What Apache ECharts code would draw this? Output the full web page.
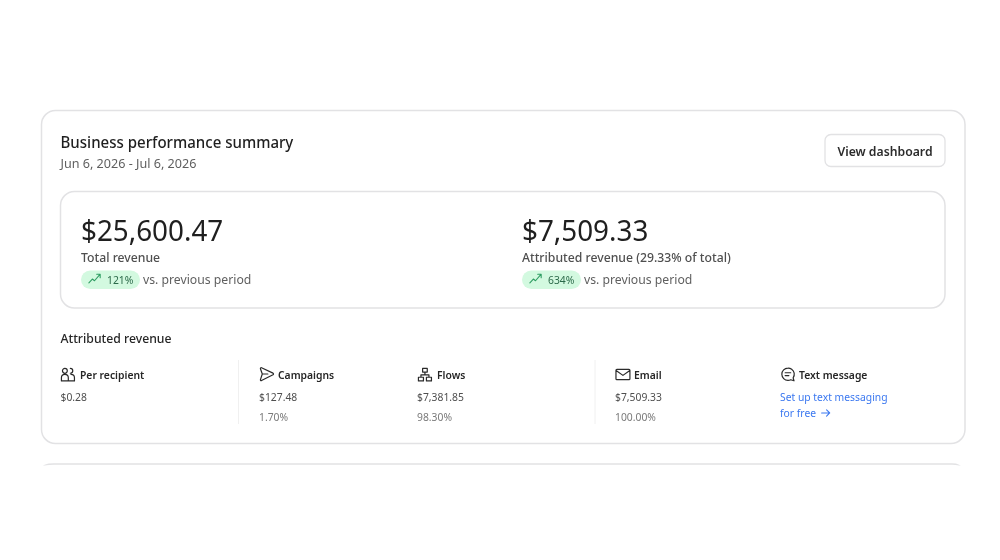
<!DOCTYPE html>
<html>
<head>
<meta charset="utf-8">
<title>Business performance summary</title>
<script src="https://cdn.jsdelivr.net/npm/echarts@6/dist/echarts.min.js"></script>
<style>
  html, body { margin: 0; padding: 0; background: #fff; }
  #chart { width: 1000px; height: 560px; }
</style>
</head>
<body>
<div id="chart"></div>
<script>
var title = 'Business performance summary';
var dateRange = 'Jun 6, 2026 - Jul 6, 2026';
var buttonLabel = 'View dashboard';
var totals = ['$25,600.47', '$7,509.33'];
var totalLabels = ['Total revenue', 'Attributed revenue (29.33% of total)'];
var changes = ['121%', '634%'];
var changeSuffix = 'vs. previous period';
var sectionTitle = 'Attributed revenue';
var columns = ['Per recipient', 'Campaigns', 'Flows', 'Email', 'Text message'];
var columnValues = ['$0.28', '$127.48', '$7,381.85', '$7,509.33'];
var columnShares = ['', '1.70%', '98.30%', '100.00%'];
var linkLines = ['Set up text messaging', 'for free'];

var FONT = '"Noto Sans", "Open Sans", sans-serif';
var INK = '#1f1f1f';
var GREY = '#5f5f5f';
var LINE = '#e2e2e4';
// Noto runs wider than the font in the reference
var TEXT_SQUEEZE = 0.94;

function text(str, x, y, size, color, weight, align) {
  return {
    type: 'text', x: x, y: y, scaleX: TEXT_SQUEEZE, silent: true,
    style: {
      text: str, fontFamily: FONT, fontSize: size, fontWeight: weight || 400,
      fill: color, align: align || 'left', verticalAlign: 'middle'
    }
  };
}

function box(x, y, w, h, r, stroke, fill, lw) {
  return {
    type: 'rect', silent: true,
    shape: { x: x, y: y, width: w, height: h, r: r },
    style: { fill: fill || '#fff', stroke: stroke, lineWidth: lw || 1.5 }
  };
}

// graphic has no plain path type, so each outline gets registered as a shape
function regShape(name, d) {
  echarts.graphic.registerShape(name, echarts.graphic.extendPath(d));
  return name;
}

function icon(name, x, y, scale, color, lw) {
  return {
    type: name, silent: true, x: x, y: y, scaleX: scale, scaleY: scale,
    style: { fill: 'none', stroke: color, lineWidth: lw || 1.3, strokeNoScale: true, lineCap: 'round', lineJoin: 'round' }
  };
}

// icons on a 16 unit grid
var ICON_PEOPLE = regShape('iconPeople', 'M1 15v-3.5c0-2 1.4-3.5 3.7-3.5s3.7 1.5 3.7 3.5V15zM4.7 1.5a2.6 2.6 0 1 0 0.01 0zM10.6 1.5a2.6 2.6 0 1 1 0 5.2M8.4 15H15v-3.5c0-2-1.4-3.5-3.7-3.5');
var ICON_SEND = regShape('iconSend', 'M2.2 0.8L14.5 6.6Q15.6 7.5 14.5 8.4L2.2 14.6Q0.8 15 1 13.6L3 7.5L1 1.9Q0.9 0.5 2.2 0.8zM3 7.5H9');
var ICON_FLOW = regShape('iconFlow', 'M5.5 1.5h5v4h-5zM1 11h5.4v4H1zM9.6 11H15v4H9.6zM8 5.5V8.4M3.7 11V8.4H12.3V11');
var ICON_MAIL = regShape('iconMail', 'M1.5 2.5h13a1 1 0 0 1 1 1v9a1 1 0 0 1-1 1h-13a1 1 0 0 1-1-1v-9a1 1 0 0 1 1-1zM1 4l7 5l7-5');
var ICON_CHAT = regShape('iconChat', 'M8 1.2a6.6 6.6 0 1 0 3 12.5L14.5 14.8L13.6 11.6A6.6 6.6 0 0 0 8 1.2zM5 6.2h6M5 9.2h4');
var ICON_TREND = regShape('iconTrend', 'M1 12L5 7.5L7.5 9.5L13.5 2.5M10 2h4v4');
var ICON_ARROW = regShape('iconArrow', 'M1 8H14M9 3L14 8L9 13');
var NEXT_CARD = regShape('nextCard', 'M41.5 469C42 466 46 464 54 464H952C958 464 961 466 962 469');

var elements = [];
// outer card and the clipped top of the next card
elements.push(box(41.5, 110.5, 923.5, 333, 14, LINE));
elements.push({
  type: NEXT_CARD, silent: true,
  style: { fill: 'none', stroke: LINE, lineWidth: 1.5 }
});
elements.push({ type: 'rect', silent: true, shape: { x: 30, y: 465.5, width: 940, height: 10 }, style: { fill: '#fff' } });

elements.push(text(title, 60.5, 143, 16, INK, 500));
elements.push(text(dateRange, 60.5, 164, 13.4, GREY));
elements.push(box(825, 134.5, 120, 32, 6, LINE, '#fff', 1.3));
elements.push(text(buttonLabel, 885, 152, 13, '#2b2b2b', 600, 'center'));

// revenue panel
elements.push(box(60.5, 191.5, 884.5, 116.5, 14, LINE));
var panelX = [81, 522];
panelX.forEach(function (x, i) {
  elements.push(text(totals[i], x, 232.5, 29.6, INK));
  elements.push(text(totalLabels[i], x, 258.5, 13, '#4f4f4f', 500));
  elements.push({
    type: 'rect', silent: true,
    shape: { x: x, y: 270.5, width: 59, height: 18.5, r: 9.25 },
    style: { fill: '#d3f9e0' }
  });
  elements.push(icon(ICON_TREND, x + 7, 272.5, 0.87, '#2f9e63', 1.1));
  elements.push(text(changes[i], x + 26, 280.5, 11, '#2c6a4a'));
  elements.push(text(changeSuffix, x + 62, 280.5, 13, GREY));
});

// attributed revenue breakdown
elements.push(text(sectionTitle, 60.5, 339, 13, '#262626', 500));
[238.5, 595].forEach(function (x) {
  elements.push({
    type: 'line', silent: true,
    shape: { x1: x, y1: 360, x2: x, y2: 424 },
    style: { stroke: '#f0f0f0', lineWidth: 1 }
  });
});

var columnText = [80, 278, 437, 634, 799];
var columnIcon = [ICON_PEOPLE, ICON_SEND, ICON_FLOW, ICON_MAIL, ICON_CHAT];
var columnIconX = [60.5, 259.5, 417.5, 615.5, 780.5];
var columnStartX = [60.5, 259, 417, 615];
columns.forEach(function (name, i) {
  elements.push(icon(columnIcon[i], columnIconX[i], 367, 0.93, '#2a2a2a', 1.2));
  elements.push(text(name, columnText[i], 375.5, 11, '#262626', 600));
  if (i < columnValues.length) {
    elements.push(text(columnValues[i], columnStartX[i], 397.5, 11, '#4f4f4f'));
    if (columnShares[i]) {
      elements.push(text(columnShares[i], columnStartX[i], 417.5, 11, '#7a7a7a'));
    }
  }
});
linkLines.forEach(function (line, i) {
  elements.push(text(line, 780, 398 + i * 16, 11, '#3b78f0'));
});
elements.push(icon(ICON_ARROW, 821, 408, 0.62, '#3b78f0', 1.1));

var chart = echarts.init(document.getElementById('chart'));
chart.setOption({
  backgroundColor: '#ffffff',
  animation: false,
  graphic: { elements: elements }
});
</script>
</body>
</html>
